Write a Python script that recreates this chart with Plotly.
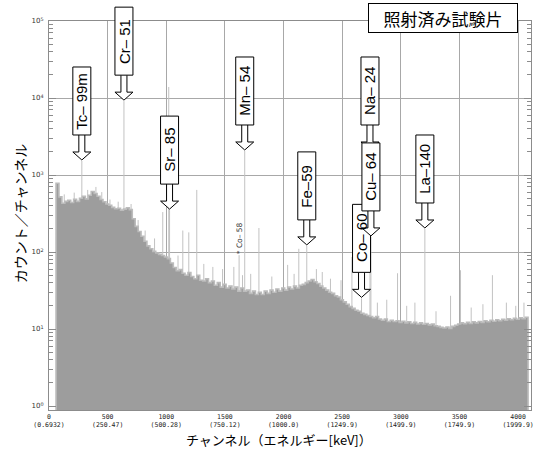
import math
import plotly.graph_objects as go

# ---- spectrum data -------------------------------------------------------
# Continuum counts per channel, in 25-channel bins starting at channel 60
BIN_START = 60
BIN_WIDTH = 25
continuum_counts = [
    780, 520, 430, 455, 470, 440, 485, 455, 500, 530,
    490, 545, 610, 575, 530, 480, 450, 420, 405, 380,
    365, 370, 350, 360, 375, 355, 270, 215, 185, 160,
    138, 120, 110, 102, 97, 93, 90, 86, 82, 72,
    63, 57, 59, 53, 50, 54, 48, 45, 50, 43,
    42, 45, 40, 42, 37, 40, 35, 38, 34, 36,
    33, 35, 31, 34, 31, 32, 29, 31, 28, 30,
    28, 31, 29, 32, 30, 33, 31, 34, 32, 35,
    33, 36, 34, 37, 38, 40, 42, 44, 41, 39,
    36, 34, 32, 30, 29, 27, 26, 24, 22.5, 21,
    19.5, 18.5, 17.5, 17, 16, 15.5, 15, 14.5, 14, 14.5,
    13.5, 13, 13.5, 12.5, 13, 12.5, 12.8, 12.2, 12.6, 12.0,
    12.4, 11.8, 12.2, 11.6, 12.0, 11.5, 11.8, 11.3, 11.6, 11.0,
    10.8, 10.5, 10.3, 10.6, 10.2, 10.8, 11.2, 11.6, 12.0, 11.7,
    12.2, 11.8, 12.4, 12.0, 12.5, 12.2, 12.8, 12.4, 13.0, 12.6,
    13.2, 12.8, 13.4, 13.0, 13.6, 13.2, 13.8, 13.4, 14.0, 13.6,
    14.2,
]

# Unlabelled peaks (channel, counts)
line_channels = [970, 1141, 1192, 1260, 1397, 1576, 1720, 1790,
                 2035, 2130, 2490, 2583, 2972, 3424, 3509, 3781]
line_counts = [330, 190, 180, 640, 64, 64, 52, 205,
               68, 110, 43, 86, 53, 27, 58, 50]

# Small statistical spikes along the continuum
noise_channels = [130, 215, 330, 400, 450, 520, 590, 700, 760, 820, 900,
                  1100, 1320, 1480, 1650, 1900, 2090, 2280, 2330, 2400,
                  2800, 2880, 3050, 3120, 3300, 3600, 3700, 3900, 3980, 4050]
noise_counts = [560, 590, 640, 700, 600, 480, 450, 420, 260, 190, 150,
                90, 70, 60, 50, 48, 52, 60, 55, 45,
                22, 24, 20, 22, 17, 19, 21, 22, 20, 22]

# 511 keV annihilation peak
annihilation_channel = 1021
annihilation_counts = 13900

# Co-58 peak (small marker label)
co58_channel = 1621
co58_counts = 91
co58_text = "* Co– 58"

# Identified nuclides (drawn in this order; later ones on top)
nuclides = ["Tc– 99m", "Cr– 51", "Sr– 85", "Mn– 54", "Fe–59",
            "Na– 24", "Co– 60", "Cu– 64", "La–140"]
nuclide_channels = [280, 639, 1028, 1669, 2198, 2737, 2665, 2745, 3205]
nuclide_counts = [1520, 9100, 350, 2050, 120, 2050, 25, 157, 199]

# Axis ticks
tick_channels = [0, 500, 1000, 1500, 2000, 2500, 3000, 3500, 4000]
tick_energies = ["0.6932", "250.47", "500.28", "750.12", "1000.0",
                 "1249.9", "1499.9", "1749.9", "1999.9"]
decade_values = [1, 10, 100, 1000, 10000, 100000]
decade_exponents = [0, 1, 2, 3, 4, 5]

title_text = "照射済み試験片"
x_title = "チャンネル（エネルギー[keV]）"
y_title = "カウント／チャンネル"

# ---- figure --------------------------------------------------------------
X_RANGE = [0, 4110]
Y_MIN, Y_MAX = -0.052, 5.0
GRID = "#a8a8a8"
FRAME = "#8c8c8c"
FILL = "#9d9d9d"
SPIKE = "#c2c2c2"


def y_paper(count):
    """Vertical paper position of a count on the log axis (for overlays
    that may extend past the top of the plot area)."""
    return (math.log10(count) - Y_MIN) / (Y_MAX - Y_MIN)


fig = go.Figure()

# thin peak lines (drawn first so the continuum covers their lower part)
all_ch = (noise_channels + line_channels
          + [annihilation_channel, co58_channel] + nuclide_channels)
all_ct = (noise_counts + line_counts
          + [annihilation_counts, co58_counts] + nuclide_counts)
sx, sy = [], []
for c, v in zip(all_ch, all_ct):
    sx += [c, c, None]
    sy += [1, v, None]
fig.add_trace(go.Scatter(x=sx, y=sy, mode="lines",
                         line=dict(color=SPIKE, width=1),
                         hoverinfo="skip", showlegend=False))

# continuum histogram as a filled step outline
n = len(continuum_counts)
edges = [BIN_START + i * BIN_WIDTH for i in range(n + 1)]
px = [edges[0]] + edges[:n] + [edges[n], edges[n]]
py = [0.5] + continuum_counts + [continuum_counts[-1], 0.5]
fig.add_trace(go.Scatter(x=px, y=py, mode="lines", line_shape="hv",
                         fill="toself", fillcolor=FILL,
                         line=dict(color="#bcbcbc", width=1.6),
                         hoverinfo="skip", showlegend=False))

# nuclide labels: hollow arrow + boxed vertical text, anchored on the peak top
shapes = []
annotations = []
for name, c, v in zip(nuclides, nuclide_channels, nuclide_counts):
    yp = y_paper(v)
    shapes.append(dict(
        type="path", xref="x", yref="paper",
        xsizemode="pixel", ysizemode="pixel", xanchor=c, yanchor=yp,
        path="M -3,26 L -3,9 L -9,9 L 0,1 L 9,9 L 3,9 L 3,26",
        line=dict(color="black", width=1), fillcolor="white"))
    shapes.append(dict(
        type="rect", xref="x", yref="paper",
        xsizemode="pixel", ysizemode="pixel", xanchor=c, yanchor=yp,
        x0=-9, x1=9, y0=26, y1=94,
        line=dict(color="black", width=1), fillcolor="white"))
    annotations.append(dict(
        text=name, x=c, y=yp, xref="x", yref="paper",
        yshift=60, textangle=-90, showarrow=False,
        xanchor="center", yanchor="middle",
        font=dict(family="Liberation Sans, Arial", size=15, color="black")))

annotations += [
    dict(text=co58_text, x=co58_channel, y=y_paper(co58_counts),
         xref="x", yref="paper", yshift=17, textangle=-90, showarrow=False,
         xanchor="center", yanchor="middle",
         font=dict(family="DejaVu Sans", size=7.5, color="#333")),
    dict(text=title_text, x=0.8165, y=1.0077, xref="paper", yref="paper",
         showarrow=False, xanchor="center", yanchor="middle",
         width=146, height=26, borderpad=1, borderwidth=1,
         bordercolor="black", bgcolor="white",
         font=dict(family="Noto Sans CJK JP", size=17, color="black")),
    dict(text=x_title, x=0.478, y=-0.075, xref="paper", yref="paper",
         showarrow=False, xanchor="center", yanchor="middle",
         font=dict(family="Noto Sans CJK JP", size=13, color="black")),
    dict(text=y_title, x=-0.0598, y=0.506, xref="paper", yref="paper",
         showarrow=False, xanchor="center", yanchor="middle", textangle=-90,
         font=dict(family="Noto Sans CJK JP", size=14, color="black")),
]

fig.update_layout(
    width=541, height=452,
    margin=dict(l=49, r=7, t=21, b=42),
    paper_bgcolor="white", plot_bgcolor="white",
    shapes=shapes, annotations=annotations,
    showlegend=False,
)

fig.update_xaxes(
    range=X_RANGE,
    tickmode="array", tickvals=tick_channels,
    ticktext=[f"{c}<br>({e})" for c, e in zip(tick_channels, tick_energies)],
    ticks="", showgrid=True, gridcolor=GRID, gridwidth=1,
    showline=True, linecolor=FRAME, linewidth=1, mirror=True,
    zeroline=False,
    tickfont=dict(family="DejaVu Sans Mono", size=6.5, color="#222"),
)

fig.update_yaxes(
    type="log", range=[Y_MIN, Y_MAX],
    tickmode="array", tickvals=decade_values,
    ticktext=[f"10<sup>{e}</sup>" for e in decade_exponents],
    ticks="inside", ticklen=7, tickcolor=FRAME, tickwidth=1,
    minor=dict(dtick="D1", ticks="inside", ticklen=4, tickcolor=FRAME,
               showgrid=False),
    showgrid=True, gridcolor=GRID, gridwidth=1,
    showline=True, linecolor=FRAME, linewidth=1, mirror="ticks",
    zeroline=False, ticklabelstandoff=3,
    tickfont=dict(family="DejaVu Sans", size=7, color="#333"),
)

fig.write_html("out.html")
